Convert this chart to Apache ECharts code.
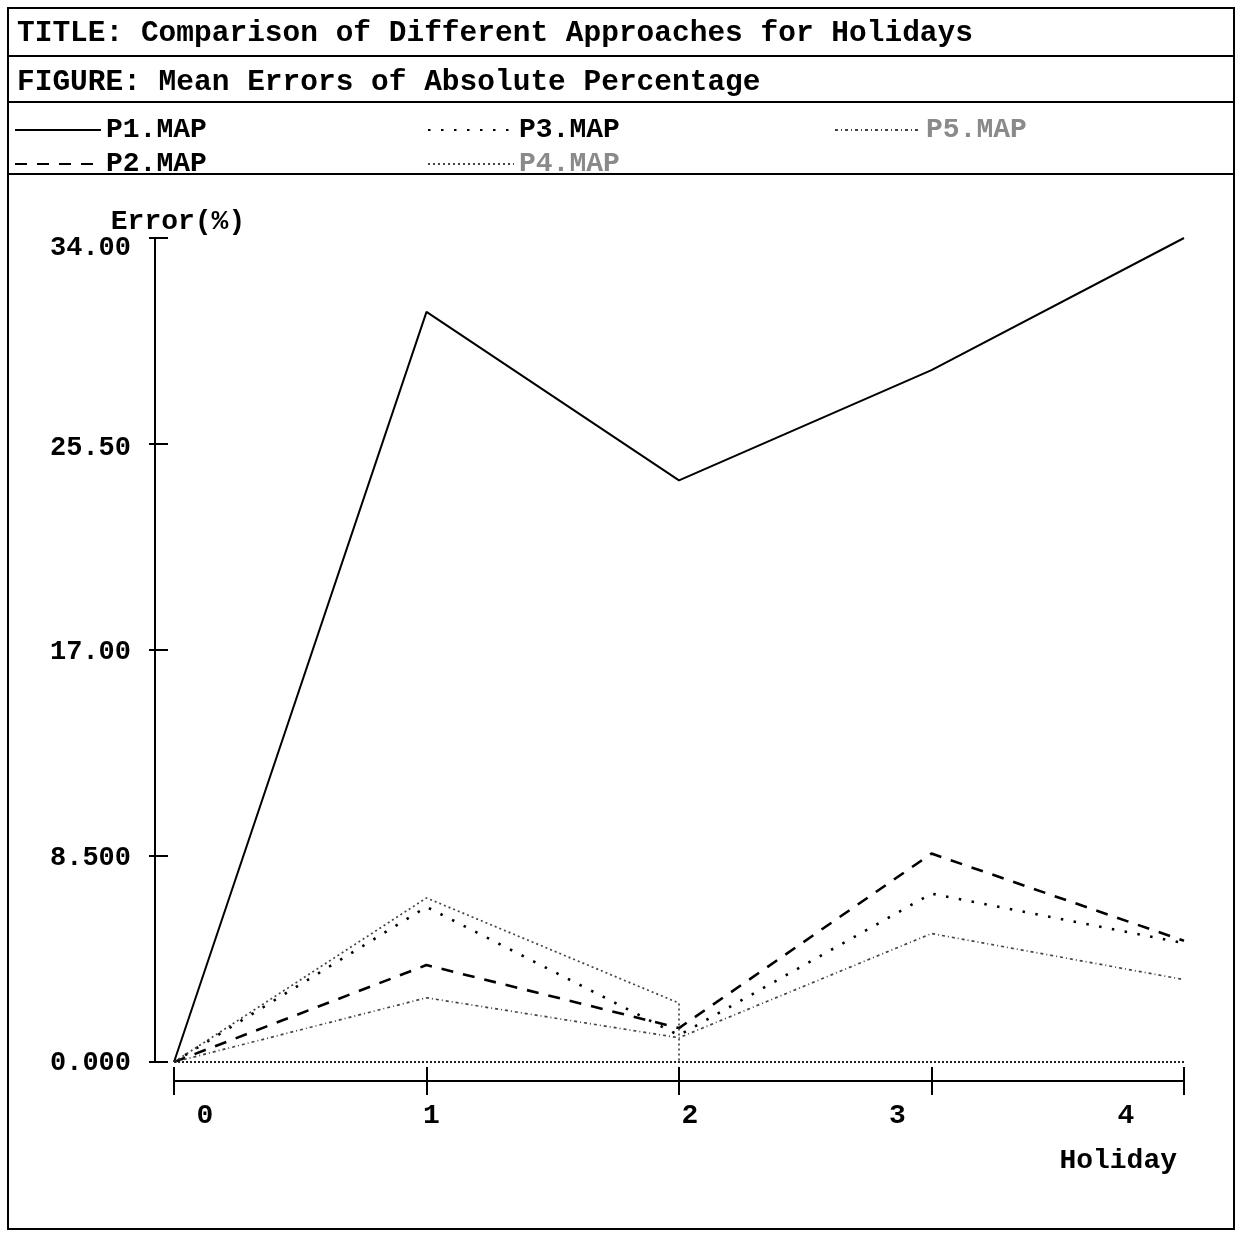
<!DOCTYPE html>
<html><head><meta charset="utf-8">
<script src="https://cdn.jsdelivr.net/npm/echarts@6/dist/echarts.min.js"></script>
<style>html,body{margin:0;padding:0;background:#fff}#c{width:1240px;height:1238px}</style>
</head><body><div id="c"></div>
<script>
// ---- data ----
const holidays = [0, 1, 2, 3, 4];
const xTickLabels = ['0', '1', '2', '3', '4'];
const yTickLabels = ['0.000', '8.500', '17.00', '25.50', '34.00'];
const seriesNames = ['P1.MAP', 'P2.MAP', 'P3.MAP', 'P4.MAP', 'P5.MAP'];
const p1Map = [0, 30.95, 24.0, 28.55, 34.0];
const p2Map = [0, 4.0, 1.4, 8.6, 5.0];
const p3Map = [0, 6.4, 1.1, 6.95, 4.9];
const p4Holidays = [0, 1, 2, 2];
const p4Map = [0, 6.77, 2.43, 0];
const p5Map = [0, 2.65, 1.0, 5.3, 3.4];
const zeroRef = 0;

// ---- styling ----
const FONT = '"Liberation Mono", "DejaVu Sans Mono", monospace';
const txt = (size, color) => ({fontFamily: FONT, fontWeight: 'bold', fontSize: size, color: color || '#000'});
const xLabelShift = [31, 5, 11, -34, -58];
const yLabelDrop = [1, 2, 2, 4, 10];
const rich = {};
xLabelShift.forEach((s, i) => {
  rich['l' + i] = Object.assign(txt(28), {padding: s >= 0 ? [0, 0, 0, 2 * s] : [0, -2 * s, 0, 0]});
});
const yRich = {};
yLabelDrop.forEach((d, i) => {
  yRich['y' + i] = Object.assign(txt(27), {padding: [2 * d, 0, 0, 0]});
});
const pair = (xs, ys) => xs.map((x, i) => [x, ys[i]]);

const chart = echarts.init(document.getElementById('c'), null, {renderer: 'canvas'});
const legendBase = {
  orient: 'vertical', top: 116, itemWidth: 86, itemHeight: 14, itemGap: 6, padding: 0,
  selectedMode: false, itemStyle: {opacity: 0, borderWidth: 0},
  textStyle: Object.assign(txt(28), {lineHeight: 28})
};
const lineBase = {type: 'line', symbol: 'none', showSymbol: false, xAxisIndex: 0, yAxisIndex: 0, silent: true};

chart.setOption({
  animation: false,
  backgroundColor: '#fff',
  title: [
    {text: 'TITLE: Comparison of Different Approaches for Holidays', left: 17, top: 19, padding: 0,
     textStyle: Object.assign(txt(29.5), {lineHeight: 30})},
    {text: 'FIGURE: Mean Errors of Absolute Percentage', left: 17, top: 68, padding: 0,
     textStyle: Object.assign(txt(29.5), {lineHeight: 30})}
  ],
  legend: [
    Object.assign({}, legendBase, {left: 14, data: [seriesNames[0], seriesNames[1]]}),
    Object.assign({}, legendBase, {left: 427, data: [seriesNames[2], {name: seriesNames[3], textStyle: {color: '#8a8a8a'}}]}),
    Object.assign({}, legendBase, {left: 834, data: [{name: seriesNames[4], textStyle: {color: '#8a8a8a'}}]})
  ],
  graphic: [
    {type: 'rect', silent: true, shape: {x: 8, y: 8, width: 1226, height: 1221}, style: {fill: 'none', stroke: '#000', lineWidth: 2}},
    {type: 'line', silent: true, shape: {x1: 8, y1: 56, x2: 1234, y2: 56}, style: {stroke: '#000', lineWidth: 2}},
    {type: 'line', silent: true, shape: {x1: 8, y1: 102, x2: 1234, y2: 102}, style: {stroke: '#000', lineWidth: 2}},
    {type: 'line', silent: true, shape: {x1: 8, y1: 174, x2: 1234, y2: 174}, style: {stroke: '#000', lineWidth: 2}}
  ],
  grid: {left: 174, right: 56, top: 238, bottom: 176, containLabel: false},
  xAxis: [
    {type: 'value', min: 0, max: 4, interval: 1, position: 'bottom', offset: 19,
     axisLine: {show: true, onZero: false, lineStyle: {color: '#000', width: 2}},
     axisTick: {show: true, inside: false, length: 14, lineStyle: {color: '#000', width: 2}},
     splitLine: {show: false},
     axisLabel: {margin: 21, formatter: v => { const i = Math.round(v); return '{l' + i + '|' + xTickLabels[i] + '}'; }, rich: rich},
     name: 'Holiday', nameLocation: 'end', nameGap: 0, nameMoveOverlap: false,
     nameTextStyle: Object.assign(txt(28), {align: 'right', verticalAlign: 'top', padding: [66, 7, 0, 0]})},
    {type: 'value', min: 0, max: 4, interval: 1, position: 'bottom', offset: 19,
     axisLine: {show: false, onZero: false}, axisLabel: {show: false}, splitLine: {show: false},
     axisTick: {show: true, inside: true, length: 14, lineStyle: {color: '#000', width: 2}}}
  ],
  yAxis: [
    {type: 'value', min: 0, max: 34, interval: 8.5, position: 'left', offset: 19,
     axisLine: {show: true, onZero: false, lineStyle: {color: '#000', width: 2}},
     axisTick: {show: true, inside: true, length: 13, lineStyle: {color: '#000', width: 2}},
     splitLine: {show: false},
     axisLabel: {margin: 24, rich: yRich,
       formatter: v => { const i = Math.round(v / 8.5); return '{y' + i + '|' + yTickLabels[i] + '}'; }},
     name: 'Error(%)', nameLocation: 'end', nameGap: 16, nameMoveOverlap: false,
     nameTextStyle: Object.assign(txt(28), {verticalAlign: 'middle', padding: [0, 0, 0, 46]})},
    {type: 'value', min: 0, max: 34, interval: 8.5, position: 'left', offset: 19,
     axisLine: {show: false, onZero: false}, axisLabel: {show: false}, splitLine: {show: false},
     axisTick: {show: true, inside: false, length: 6, lineStyle: {color: '#000', width: 2}}}
  ],
  series: [
    Object.assign({}, lineBase, {name: seriesNames[0], data: pair(holidays, p1Map),
      lineStyle: {color: '#000', width: 2, type: 'solid'}, itemStyle: {color: '#000'}}),
    Object.assign({}, lineBase, {name: seriesNames[1], data: pair(holidays, p2Map),
      lineStyle: {color: '#000', width: 2.6, type: [12, 10]}, itemStyle: {color: '#000'}}),
    Object.assign({}, lineBase, {name: seriesNames[2], data: pair(holidays, p3Map),
      lineStyle: {color: '#000', width: 2.6, type: [2.5, 10.5]}, itemStyle: {color: '#000'}}),
    Object.assign({}, lineBase, {name: seriesNames[3], data: pair(p4Holidays, p4Map),
      lineStyle: {color: '#444', width: 1.7, type: [2, 3]}, itemStyle: {color: '#444'},
      markLine: {silent: true, symbol: 'none', label: {show: false},
        lineStyle: {color: '#222', width: 2, type: [2, 2]}, data: [{yAxis: zeroRef}]}}),
    Object.assign({}, lineBase, {name: seriesNames[4], data: pair(holidays, p5Map),
      lineStyle: {color: '#444', width: 1.7, type: [3, 3, 1, 3]}, itemStyle: {color: '#444'}})
  ]
});
</script>
</body></html>
